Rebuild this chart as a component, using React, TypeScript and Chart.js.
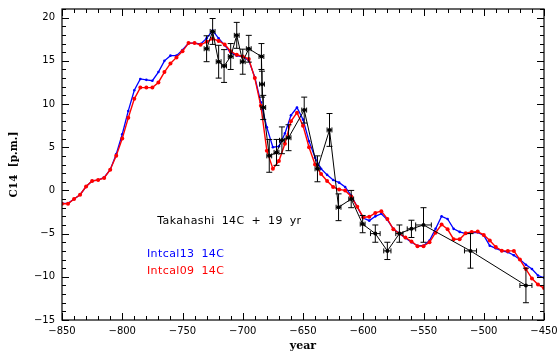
import React, { useEffect, useRef } from 'react';
import { Chart, registerables } from 'chart.js';

Chart.register(...registerables);

// Calibration curve grid (years, 5-yr steps)
const calYears = [
  -850, -845, -840, -835, -830, -825, -820, -815, -810, -805,
  -800, -795, -790, -785, -780, -775, -770, -765, -760, -755,
  -750, -745, -740, -735, -730, -725, -720, -715, -710, -705,
  -700, -695, -690, -685, -680, -675, -670, -665, -660, -655,
  -650, -645, -640, -635, -630, -625, -620, -615, -610, -605,
  -600, -595, -590, -585, -580, -575, -570, -565, -560, -555,
  -550, -545, -540, -535, -530, -525, -520, -515, -510, -505,
  -500, -495, -490, -485, -480, -475, -470, -465, -460, -455,
  -450,
];

const intcal13 = [
  -1.5, -1.5, -1.0, -0.5, 0.45, 1.1, 1.2, 1.5, 2.4, 4.2,
  6.5, 9.2, 11.6, 12.9, 12.8, 12.7, 13.7, 15.0, 15.6, 15.6,
  16.25, 17.05, 17.05, 16.95, 17.6, 18.5, 17.6, 16.8, 15.95, 15.6,
  15.45, 15.05, 13.1, 10.2, 7.3, 5.0, 5.1, 6.6, 8.7, 9.6,
  8.2, 5.7, 3.8, 2.5, 1.8, 1.2, 0.9, 0.4, -0.6, -1.9,
  -3.2, -3.5, -3.0, -2.7, -3.4, -4.45, -5.0, -5.5, -6.0, -6.4,
  -6.4, -5.8, -4.45, -3.0, -3.3, -4.45, -4.8, -5.0, -4.9, -4.85,
  -5.2, -6.4, -6.7, -7.0, -7.15, -7.5, -8.0, -8.6, -9.1, -9.85,
  -10.1,
];

const intcal09 = [
  -1.55, -1.55, -1.0, -0.5, 0.45, 1.1, 1.2, 1.45, 2.4, 4.0,
  6.0, 8.4, 10.6, 11.9, 11.9, 11.9, 12.5, 13.7, 14.7, 15.4,
  16.1, 17.05, 17.05, 16.85, 17.2, 17.55, 17.3, 16.9, 16.1, 15.7,
  15.5, 15.2, 13.0, 9.8, 4.6, 2.5, 3.4, 5.4, 8.0, 9.0,
  7.5, 5.0, 3.0, 1.9, 1.1, 0.4, 0.1, 0.0, -0.7, -1.9,
  -3.1, -3.05, -2.6, -2.4, -3.3, -4.5, -5.0, -5.45, -5.9, -6.45,
  -6.45, -6.0, -4.9, -3.95, -4.5, -5.65, -5.65, -4.95, -4.8, -4.77,
  -5.15, -5.8, -6.55, -6.97, -7.0, -7.0, -8.0, -9.1, -10.2, -10.9,
  -11.3,
];

// Takahashi tree-ring measurements (+19 yr shift applied)
const takYear = [
  -730, -725, -720, -715.5, -710, -705, -700, -695, -684.5, -684,
  -683, -678, -672, -667.5, -662, -649, -638, -628, -620.5, -610,
  -600.5, -590, -580, -570, -560, -550, -511, -465,
];
const takC14 = [
  16.4, 18.4, 14.9, 14.4, 15.5, 17.95, 14.9, 16.4, 15.5, 12.3,
  9.6, 4.0, 4.4, 5.8, 6.1, 9.3, 2.5, 7.0, -1.95, -1.0,
  -3.9, -5.0, -7.0, -5.0, -4.45, -4.0, -7.0, -11.0,
];
const takErrY = [
  1.5, 1.5, 1.9, 1.9, 1.5, 1.5, 1.45, 1.55, 1.5, 1.5,
  1.4, 1.9, 1.5, 1.55, 1.5, 1.5, 1.5, 1.9, 1.55, 1.0,
  1.0, 1.0, 1.0, 1.0, 1.0, 2.0, 2.0, 2.0,
];
const takErrX = [
  2, 2, 2, 2, 2, 2, 2, 2, 2, 2,
  2, 2, 2, 2, 2, 2, 2, 2, 2, 2,
  2, 4, 3, 3, 3.5, 6.5, 5, 5,
];

const xTicks = [-850, -800, -750, -700, -650, -600, -550, -500, -450];
const yTicks = [-15, -10, -5, 0, 5, 10, 15, 20];
const xMinorStep = 10;
const yMinorStep = 1;

const labelNotes = [
  { text: 'Takahashi 14C + 19 yr', color: '#000000', year: -771, c14: -3.6 },
  { text: 'Intcal13 14C', color: '#0000ff', year: -779.5, c14: -7.4 },
  { text: 'Intcal09 14C', color: '#ff0000', year: -779.5, c14: -9.4 },
];

const fmt = (v: number) => String(v).replace('-', '\u2212');

const framePlugin = {
  id: 'frameTicksErrors',
  afterDatasetsDraw(chart: any) {
    const { ctx, chartArea: a, scales } = chart;
    const xs = scales.x;
    const ys = scales.y;

    // error bars on the Takahashi points
    ctx.save();
    ctx.beginPath();
    ctx.rect(a.left, a.top, a.right - a.left, a.bottom - a.top);
    ctx.clip();
    ctx.strokeStyle = '#000000';
    ctx.lineWidth = 1;
    for (let i = 0; i < takYear.length; i++) {
      const px = xs.getPixelForValue(takYear[i]);
      const py = ys.getPixelForValue(takC14[i]);
      const x0 = xs.getPixelForValue(takYear[i] - takErrX[i]);
      const x1 = xs.getPixelForValue(takYear[i] + takErrX[i]);
      const y0 = ys.getPixelForValue(takC14[i] - takErrY[i]);
      const y1 = ys.getPixelForValue(takC14[i] + takErrY[i]);
      ctx.beginPath();
      ctx.moveTo(px, y0);
      ctx.lineTo(px, y1);
      ctx.moveTo(px - 3, y0);
      ctx.lineTo(px + 3, y0);
      ctx.moveTo(px - 3, y1);
      ctx.lineTo(px + 3, y1);
      ctx.moveTo(x0, py);
      ctx.lineTo(x1, py);
      ctx.moveTo(x0, py - 2.5);
      ctx.lineTo(x0, py + 2.5);
      ctx.moveTo(x1, py - 2.5);
      ctx.lineTo(x1, py + 2.5);
      ctx.stroke();
    }
    ctx.restore();

    // plot frame
    ctx.save();
    ctx.strokeStyle = '#000000';
    ctx.lineWidth = 1.2;
    ctx.strokeRect(a.left, a.top, a.right - a.left, a.bottom - a.top);

    // inward tick marks on all four sides
    ctx.lineWidth = 1;
    ctx.beginPath();
    const xMin = xs.min, xMax = xs.max;
    for (let v = xMin; v <= xMax + 1e-9; v += xMinorStep) {
      const major = xTicks.includes(v);
      const len = major ? 7 : 4;
      const p = Math.round(xs.getPixelForValue(v)) + 0.5;
      ctx.moveTo(p, a.bottom);
      ctx.lineTo(p, a.bottom - len);
      ctx.moveTo(p, a.top);
      ctx.lineTo(p, a.top + len);
    }
    const yMin = ys.min, yMax = ys.max;
    for (let v = Math.ceil(yMin); v <= yMax + 1e-9; v += yMinorStep) {
      const major = yTicks.includes(v);
      const len = major ? 7 : 4;
      const p = Math.round(ys.getPixelForValue(v)) + 0.5;
      ctx.moveTo(a.left, p);
      ctx.lineTo(a.left + len, p);
      ctx.moveTo(a.right, p);
      ctx.lineTo(a.right - len, p);
    }
    ctx.stroke();
    ctx.restore();
  },
  afterDraw(chart: any) {
    const { ctx, scales } = chart;
    ctx.save();
    ctx.font = '11px "DejaVu Sans"';
    ctx.textBaseline = 'middle';
    ctx.textAlign = 'left';
    (ctx as any).letterSpacing = '0.4px';
    (ctx as any).wordSpacing = '3px';
    for (const n of labelNotes) {
      ctx.fillStyle = n.color;
      ctx.fillText(n.text, scales.x.getPixelForValue(n.year), scales.y.getPixelForValue(n.c14));
    }
    ctx.restore();
  },
};

export default function App() {
  const canvasRef = useRef<HTMLCanvasElement | null>(null);

  useEffect(() => {
    document.body.style.margin = '0';
    const canvas = canvasRef.current;
    if (!canvas) return;

    const chart = new Chart(canvas, {
      type: 'scatter',
      data: {
        datasets: [
          {
            label: 'Takahashi 14C + 19 yr',
            data: takYear.map((x, i) => ({ x, y: takC14[i] })),
            showLine: true,
            borderColor: '#000000',
            backgroundColor: '#000000',
            borderWidth: 1,
            pointRadius: 2,
            pointBorderWidth: 0,
            order: 1,
          },
          {
            label: 'Intcal09 14C',
            data: calYears.map((x, i) => ({ x, y: intcal09[i] })),
            showLine: true,
            borderColor: '#ff0000',
            backgroundColor: '#ff0000',
            borderWidth: 1.4,
            pointRadius: 2,
            pointBorderWidth: 0,
            order: 2,
          },
          {
            label: 'Intcal13 14C',
            data: calYears.map((x, i) => ({ x, y: intcal13[i] })),
            showLine: true,
            borderColor: '#0000ff',
            backgroundColor: '#0000ff',
            borderWidth: 1.3,
            pointRadius: 1.3,
            pointBorderWidth: 0,
            order: 3,
          },
        ],
      },
      options: {
        responsive: false,
        animation: false,
        devicePixelRatio: 1,
        layout: { padding: { top: 9, right: 14, left: 0, bottom: 0 } },
        plugins: {
          legend: { display: false },
          tooltip: { enabled: false },
        },
        scales: {
          x: {
            type: 'linear',
            min: -850,
            max: -450,
            afterBuildTicks: (s: any) => {
              s.ticks = xTicks.map((value) => ({ value }));
            },
            afterFit: (s: any) => {
              s.height = 33;
              s.paddingLeft = 0;
              s.paddingRight = 0;
            },
            grid: { display: false, drawTicks: false },
            border: { display: false },
            ticks: {
              padding: 5,
              autoSkip: false,
              maxRotation: 0,
              color: '#000000',
              font: { family: '"DejaVu Sans"', size: 10 },
              callback: (v: any) => fmt(Number(v)),
            },
            title: {
              display: true,
              text: 'year',
              color: '#000000',
              font: { family: '"DejaVu Serif"', size: 11, weight: 'bold' },
              padding: { top: 0, bottom: 0 },
            },
          },
          y: {
            type: 'linear',
            min: -15,
            max: 21,
            afterBuildTicks: (s: any) => {
              s.ticks = yTicks.map((value) => ({ value }));
            },
            afterFit: (s: any) => {
              s.width = 62;
              s.paddingTop = 0;
              s.paddingBottom = 0;
            },
            grid: { display: false, drawTicks: false },
            border: { display: false },
            ticks: {
              padding: 7,
              autoSkip: false,
              color: '#000000',
              font: { family: '"DejaVu Sans"', size: 10 },
              callback: (v: any) => fmt(Number(v)),
            },
            title: {
              display: true,
              text: 'C14  [p.m.]',
              color: '#000000',
              font: { family: '"DejaVu Serif"', size: 10.5, weight: 'bold' },
              padding: { top: 8, bottom: 0 },
            },
          },
        },
      },
      plugins: [framePlugin],
    });

    return () => chart.destroy();
  }, []);

  return (
    <div style={{ position: 'absolute', left: 0, top: 0, width: 558, height: 353, background: '#ffffff' }}>
      <canvas ref={canvasRef} width={558} height={353} style={{ display: 'block' }} />
    </div>
  );
}
